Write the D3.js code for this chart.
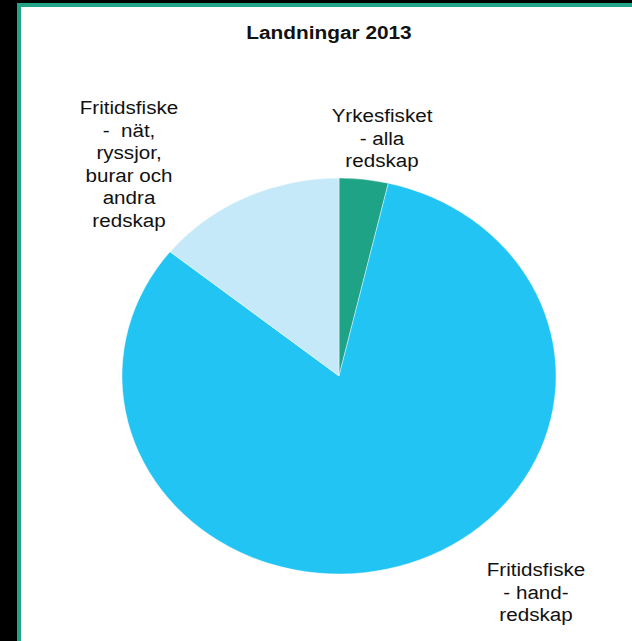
<!DOCTYPE html>
<html lang="sv">
<head>
<meta charset="utf-8">
<title>Landningar 2013</title>
<script src="https://d3js.org/d3.v7.min.js"></script>
<style>
  html, body { margin: 0; padding: 0; background: #000; }
  svg { display: block; }
  text { font-family: "Liberation Sans", Arial, sans-serif; fill: #111; white-space: pre; }
</style>
</head>
<body>
<div id="chart"></div>
<script>
// data (share of landings, %)
var categories = ["Yrkesfisket - alla redskap",
                  "Fritidsfiske - handredskap",
                  "Fritidsfiske - nät, ryssjor, burar och andra redskap"];
var values = [3.65, 82.15, 14.2];
// label lines as printed in the chart
var labelLines = [
  ["Yrkesfisket", "- alla", "redskap"],
  ["Fritidsfiske", "- hand-", "redskap"],
  ["Fritidsfiske", "-  nät,", "ryssjor,", "burar och", "andra", "redskap"]
];
var colors = ["#1fa386", "#21c4f3", "#c6e9f9"];

// layout
var W = 632, H = 641;
var sx = 1.096;            // the picture is stretched sideways
var cx = 339, cy = 376, r = 198;
// label anchor (centre x, first baseline y) for each slice
var labelPos = [[382, 122], [536, 576], [129, 114]];
var lineH = 22.6;

var svg = d3.select("#chart").append("svg")
  .attr("width", W).attr("height", H);

// black strip + green frame
svg.append("rect").attr("x", 0).attr("y", 0).attr("width", W).attr("height", H).attr("fill", "#000");
svg.append("rect").attr("x", 17).attr("y", 3).attr("width", W - 17).attr("height", H - 3).attr("fill", "#22a487");
svg.append("rect").attr("x", 21).attr("y", 7).attr("width", W - 21).attr("height", H - 7).attr("fill", "#fff");

// title
svg.append("text")
  .attr("transform", "translate(329,39) scale(" + sx + ",1)")
  .attr("text-anchor", "middle")
  .style("font-size", "19px")
  .style("font-weight", "bold")
  .text("Landningar 2013");

var pie = d3.pie().sort(null).value(function(d) { return d; });
var arc = d3.arc().innerRadius(0).outerRadius(r);

var g = svg.append("g")
  .attr("transform", "translate(" + cx + "," + cy + ") scale(" + sx + ",1)");

g.selectAll("path")
  .data(pie(values))
  .enter()
  .append("path")
    .attr("d", arc)
    .attr("fill", function(d, i) { return colors[i]; })
    .attr("stroke", "#fff")
    .attr("stroke-width", 0.4);

// labels
labelLines.forEach(function(lines, i) {
  var t = svg.append("text")
    .attr("transform", "translate(" + labelPos[i][0] + "," + labelPos[i][1] + ") scale(" + sx + ",1)")
    .attr("text-anchor", "middle")
    .style("font-size", "18.8px");
  lines.forEach(function(s, j) {
    t.append("tspan").attr("x", 0).attr("y", j * lineH).text(s);
  });
});
</script>
</body>
</html>
